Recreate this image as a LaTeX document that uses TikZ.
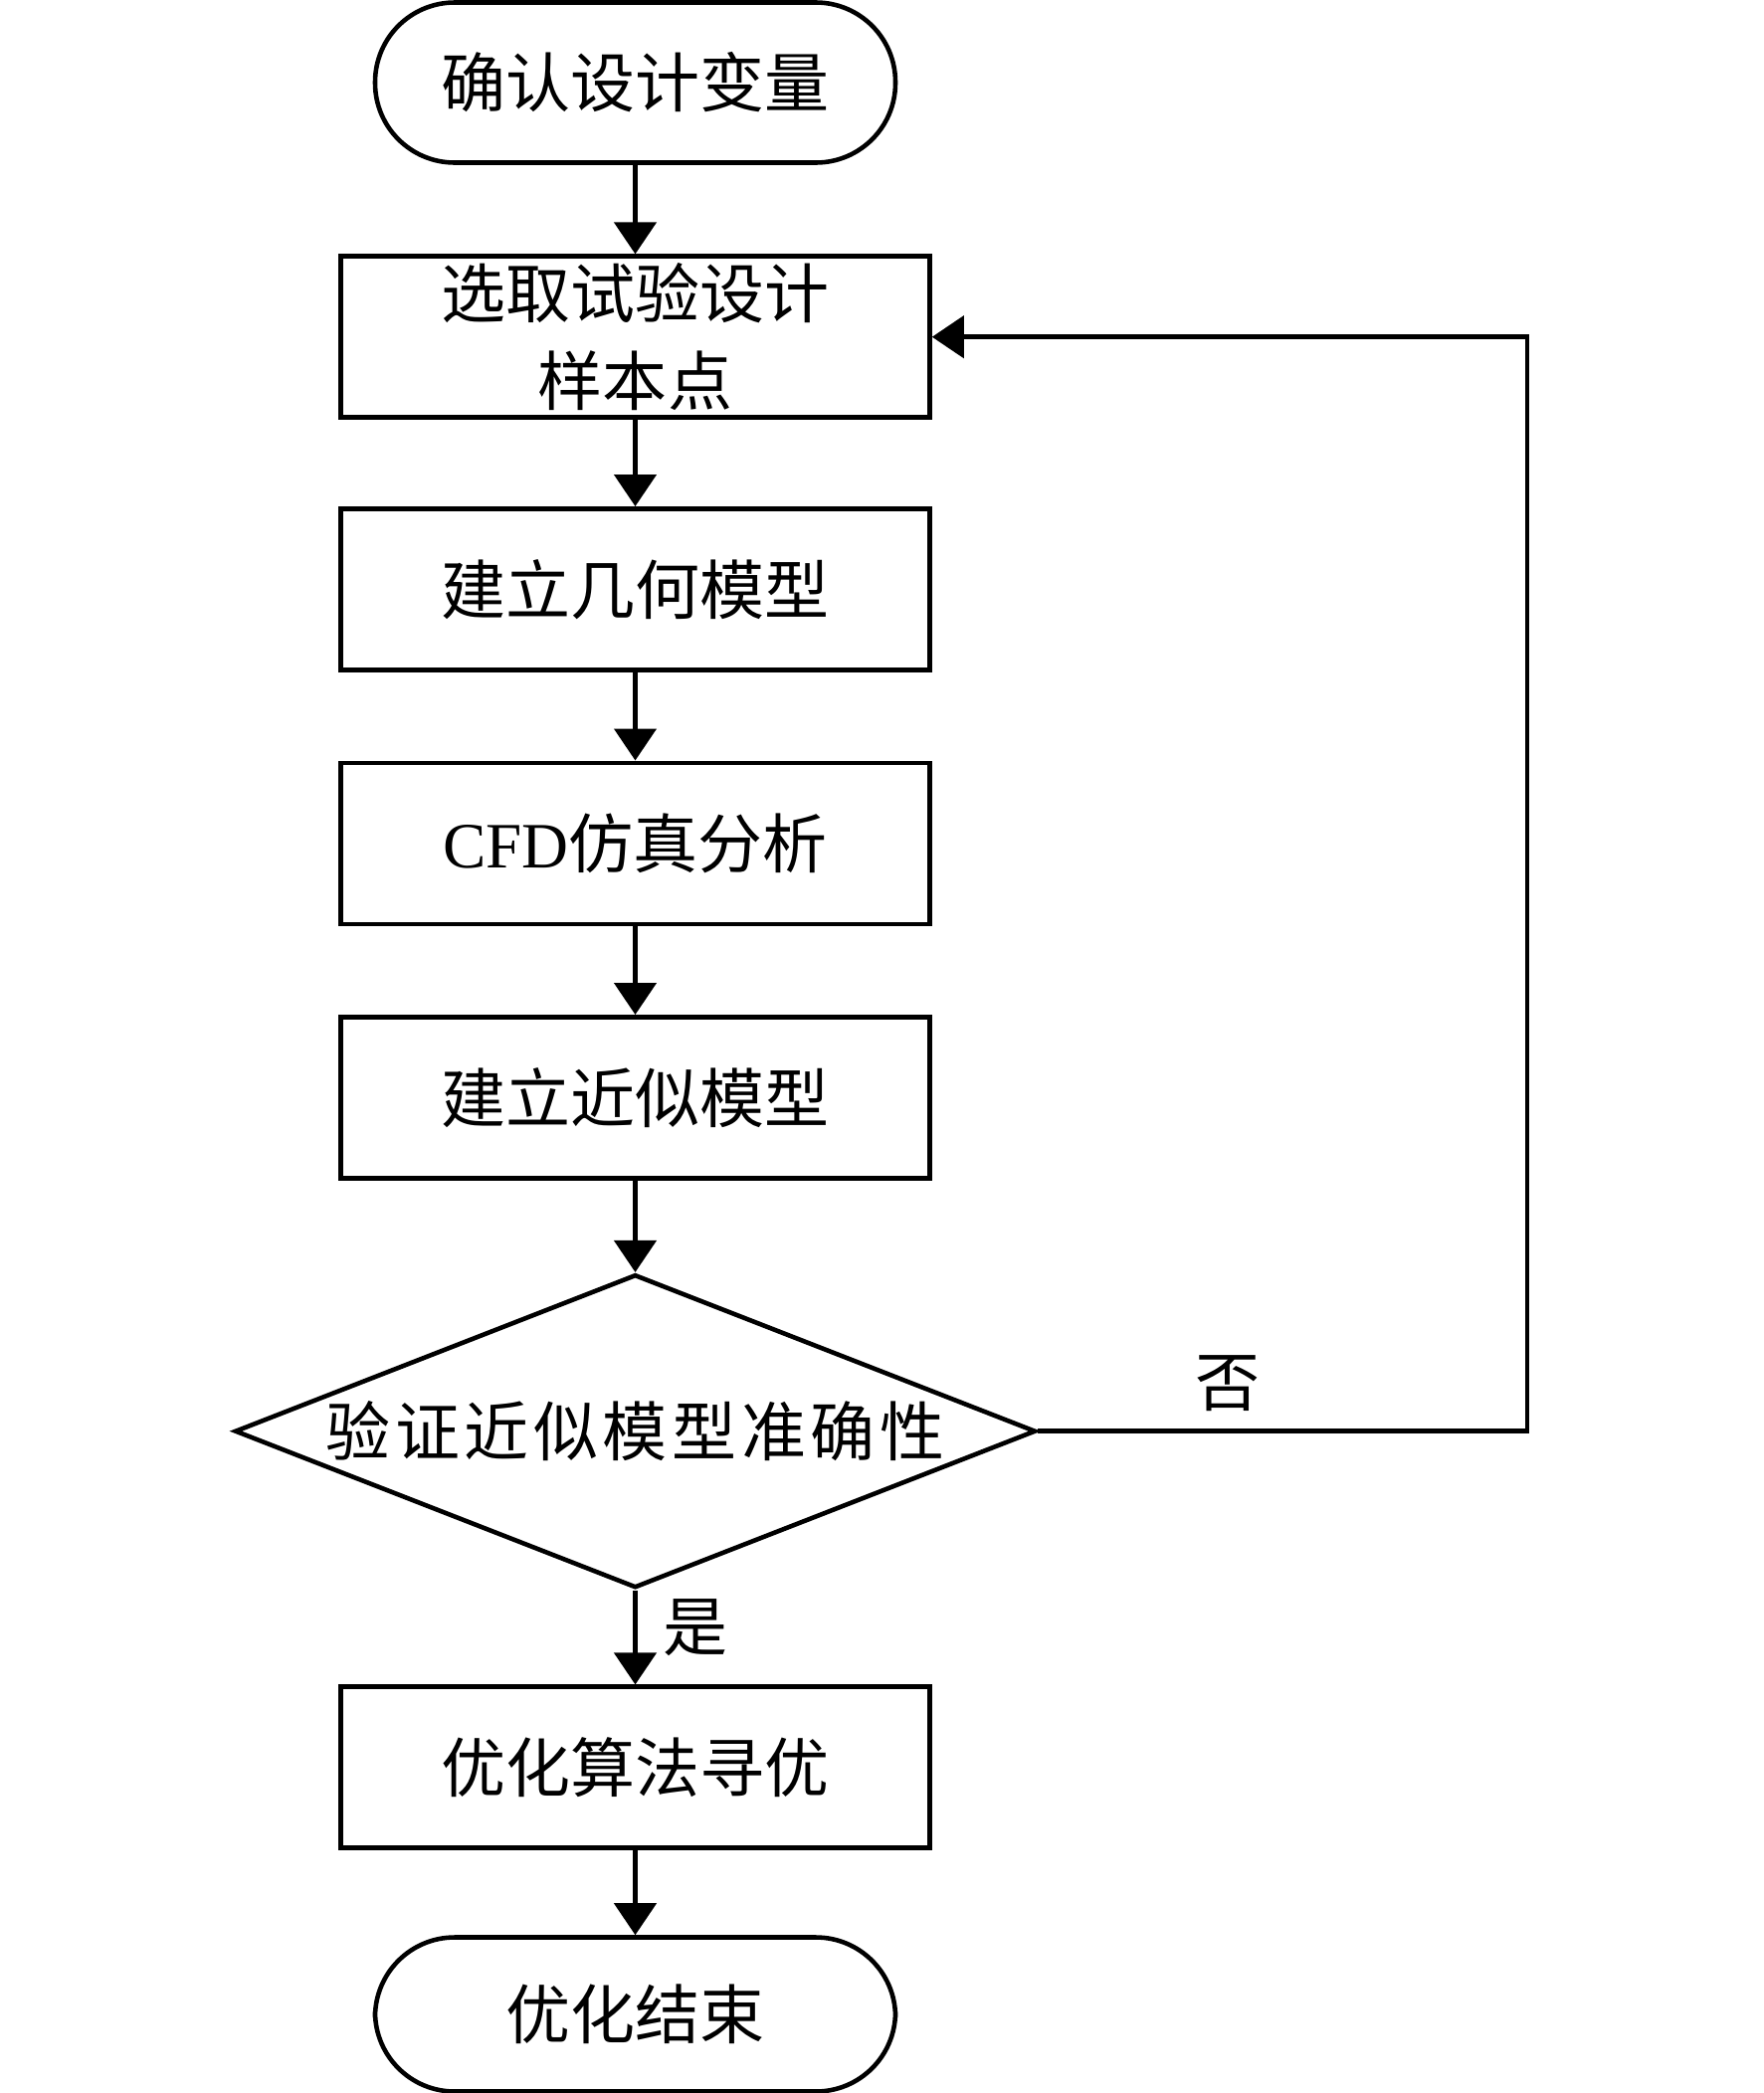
\documentclass[tikz,border=0pt]{standalone}
\usepackage{fontspec}
\setmainfont{Liberation Serif}
\newfontfamily\cjk{Noto Sans CJK SC}
\newfontfamily\cjklargo[LetterSpace=7]{Noto Sans CJK SC}
\usetikzlibrary{shapes.geometric,arrows.meta}

\begin{document}
\begin{tikzpicture}[
    line width=1.3pt,
    font=\cjk\fontsize{18.5}{25}\selectfont,
    caixa/.style={draw, minimum width=5.92cm, minimum height=1.62cm, align=center, inner sep=0pt},
    terminal/.style={draw, rounded corners=0.8cm, minimum width=5.23cm, minimum height=1.61cm, inner sep=0pt},
    decisao/.style={draw, diamond, aspect=2.56, minimum width=8.05cm, minimum height=3.15cm, inner sep=0pt, font=\cjklargo\fontsize{18.5}{25}\selectfont},
    seta/.style={-{Triangle[length=3.2mm,width=4.2mm]}}
]
    \useasboundingbox (0,0) rectangle (17.72,-21.04);

    % Etapas
    \node[terminal] (inicio) at (6.385,-0.83) {确认设计变量};
    \node[caixa] (amostra) at (6.385,-3.387) {选取试验设计\\样本点};
    \node[caixa] (geom) at (6.385,-5.923) {建立几何模型};
    \node[caixa] (cfd) at (6.385,-8.478) {{\rmfamily CFD}仿真分析};
    \node[caixa] (aprox) at (6.385,-11.033) {建立近似模型};
    \node[decisao] (valida) at (6.385,-14.387) {验证近似模型准确性};
    \node[caixa] (otim) at (6.385,-17.767) {优化算法寻优};
    \node[terminal, minimum height=1.55cm] (fim) at (6.385,-20.25) {优化结束};

    % Setas principais
    \draw[seta] (inicio) -- (amostra);
    \draw[seta] (amostra) -- (geom);
    \draw[seta] (geom) -- (cfd);
    \draw[seta] (cfd) -- (aprox);
    \draw[seta] (aprox) -- (valida);
    \draw[seta] (valida) -- (otim) node[pos=0.4, right=4pt] (sim) {是};
    \draw[seta] (otim) -- (fim);

    % Retorno
    \coordinate (retorno) at (15.35,-14.387);
    \draw[seta] (valida.east) -- (retorno) |- (amostra.east);
    \node (nao) at (12.34,-13.91) {否};
\end{tikzpicture}
\end{document}
